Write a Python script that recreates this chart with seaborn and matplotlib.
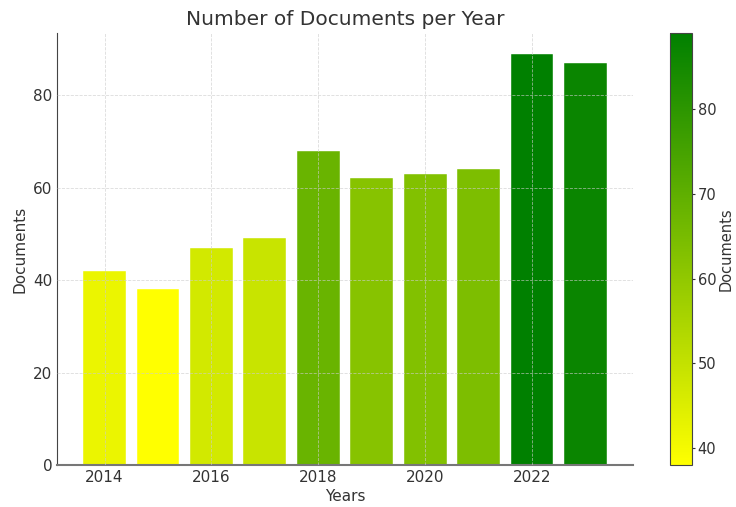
import numpy as np
import pandas as pd
import matplotlib
matplotlib.use("Agg")
import matplotlib.pyplot as plt
import seaborn as sns
from matplotlib.colors import LinearSegmentedColormap, Normalize

# Datos
years = [2014, 2015, 2016, 2017, 2018, 2019, 2020, 2021, 2022, 2023]
documents = [42, 38, 47, 49, 68, 62, 63, 64, 89, 87]

df = pd.DataFrame({"Years": years, "Documents": documents})

sns.set_style("white")
plt.rcParams["font.family"] = ["DejaVu Sans"]
text_color = "#333333"

cmap = LinearSegmentedColormap.from_list("yellow_green", ["#ffff00", "#008000"])
norm = Normalize(vmin=min(documents), vmax=max(documents))

fig = plt.figure(figsize=(7.36, 5.07), dpi=100)
ax = fig.add_axes([57 / 736, 42 / 507, 576 / 736, 432 / 507])
cax = fig.add_axes([670 / 736, 42 / 507, 22 / 736, 432 / 507])

sns.barplot(data=df, x="Years", y="Documents", hue="Documents", palette=cmap,
            hue_norm=norm, native_scale=True, saturation=1, legend=False,
            width=0.8, edgecolor="white", linewidth=0.3, ax=ax)

ax.set_xticks([2014, 2016, 2018, 2020, 2022])
ax.set_yticks([0, 20, 40, 60, 80])
ax.grid(True, linestyle="--", color="#cccccc", linewidth=0.6, alpha=0.7)
ax.set_axisbelow(False)
for s in ["top", "right"]:
    ax.spines[s].set_visible(False)
ax.spines["left"].set_color("#444444")
ax.spines["bottom"].set_color("#777777")
ax.spines["bottom"].set_linewidth(1.5)
ax.tick_params(direction="in", length=4, labelsize=11, colors=text_color)
ax.set_title("Number of Documents per Year", fontsize=14.5, color=text_color)
ax.set_xlabel("Years", fontsize=11, color=text_color, labelpad=3)
ax.set_ylabel("Documents", fontsize=11, color=text_color)

sm = plt.cm.ScalarMappable(cmap=cmap, norm=norm)
cb = fig.colorbar(sm, cax=cax)
cb.set_label("Documents", fontsize=10.5, color=text_color, labelpad=2)
cb.ax.tick_params(labelsize=10.5, colors=text_color, direction="out", length=2, pad=2)
cb.outline.set_edgecolor("#444444")

fig.savefig("out.png", dpi=100)
